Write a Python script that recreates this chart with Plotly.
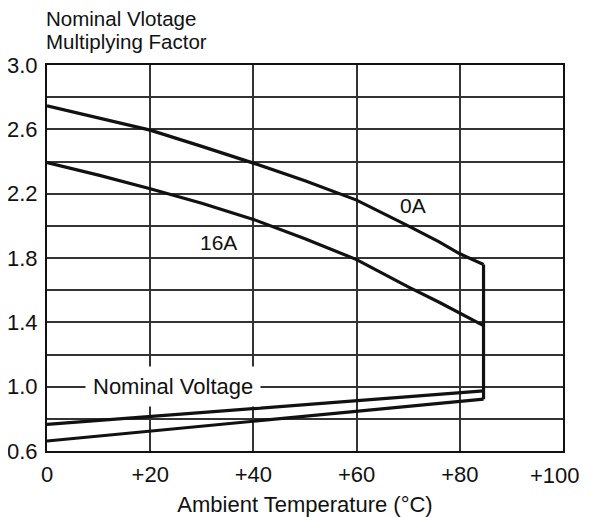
import plotly.graph_objects as go

# Data
temp_0a = [0, 10, 20, 30, 40, 50, 60, 70, 76, 80, 84.6]
factor_0a = [2.746, 2.668, 2.595, 2.494, 2.39, 2.28, 2.16, 2.0, 1.9, 1.826, 1.76]

temp_16a = [0, 10, 20, 30, 40, 50, 60, 70, 76, 80, 84.6]
factor_16a = [2.393, 2.315, 2.231, 2.14, 2.04, 1.92, 1.79, 1.62, 1.525, 1.46, 1.38]

temp_nom = [0, 84.6]
nominal_upper = [0.765, 0.974]
nominal_lower = [0.662, 0.922]

cutoff_temp = [84.6, 84.6]
cutoff_factor = [1.76, 0.922]

x_ticks = [0, 20, 40, 60, 80, 100]
x_tick_labels = ["0", "+20", "+40", "+60", "+80", "+100"]
y_ticks = [0.6, 1.0, 1.4, 1.8, 2.2, 2.6, 3.0]
y_tick_labels = ["0.6", "1.0", "1.4", "1.8", "2.2", "2.6", "3.0"]

FONT = "Liberation Sans, Arial, sans-serif"
line_style = dict(color="#111111", width=3.2)

fig = go.Figure()
for xs, ys, nm in [
    (temp_0a, factor_0a, "0A"),
    (temp_16a, factor_16a, "16A"),
    (temp_nom, nominal_upper, "upper"),
    (temp_nom, nominal_lower, "lower"),
    (cutoff_temp, cutoff_factor, "cutoff"),
]:
    fig.add_trace(go.Scatter(x=xs, y=ys, mode="lines", name=nm,
                             line=line_style, showlegend=False,
                             hoverinfo="skip"))

# last x tick label is drawn as an annotation so it stays inside the page
x_ticktext = x_tick_labels[:-1] + [""]

grid_col = "#333333"
fig.update_layout(
    width=583, height=509,
    margin=dict(l=39, r=28, t=57, b=66),
    paper_bgcolor="white", plot_bgcolor="white",
    font=dict(family=FONT, size=21, color="#111111"),
    xaxis=dict(
        range=[0, 100], tickvals=x_ticks, ticktext=x_ticktext,
        showgrid=True, gridcolor=grid_col, gridwidth=1.6,
        showline=True, linecolor="#111111", linewidth=2.2, mirror=True,
        zeroline=False, ticks="", ticklabelstandoff=2, automargin=False,
        tickfont=dict(family=FONT, size=22, color="#111111"),
        title=dict(text="Ambient Temperature (°C)", standoff=12,
                   font=dict(family=FONT, size=22, color="#111111")),
    ),
    yaxis=dict(
        range=[0.6, 3.0], tickvals=y_ticks, ticktext=y_tick_labels,
        showgrid=True, gridcolor=grid_col, gridwidth=1.6,
        minor=dict(dtick=0.2, tick0=0.6, showgrid=True,
                   gridcolor=grid_col, gridwidth=1.6),
        showline=True, linecolor="#111111", linewidth=2.2, mirror=True,
        zeroline=False, ticks="", ticklabelstandoff=3, automargin=False,
        tickfont=dict(family=FONT, size=22, color="#111111"),
    ),
    annotations=[
        dict(text="Nominal Vlotage", xref="paper", yref="paper",
             x=0, y=1.1192, xanchor="left", yanchor="middle", xshift=-3,
             showarrow=False, font=dict(size=20.5)),
        dict(text="Multiplying Factor", xref="paper", yref="paper",
             x=0, y=1.0596, xanchor="left", yanchor="middle", xshift=-3,
             showarrow=False, font=dict(size=20.5)),
        dict(text="0A", x=70.9, y=2.127, xref="x", yref="y",
             showarrow=False, font=dict(size=21)),
        dict(text="16A", x=33.2, y=1.896, xref="x", yref="y",
             showarrow=False, font=dict(size=21)),
        dict(text="Nominal Voltage", x=24.4, y=1.0, xref="x", yref="y",
             showarrow=False, bgcolor="white", borderpad=7,
             font=dict(size=22)),
        dict(text=x_tick_labels[-1], x=x_ticks[-1], xref="x",
             y=0, yref="paper", xanchor="right", yanchor="top",
             xshift=19, yshift=-10, showarrow=False,
             font=dict(family=FONT, size=22, color="#111111")),
    ],
)

fig.write_html("out.html")
